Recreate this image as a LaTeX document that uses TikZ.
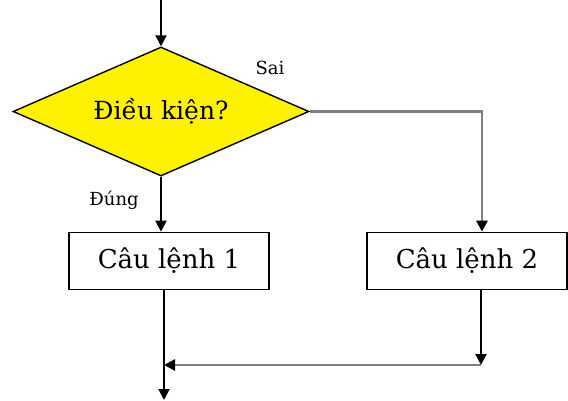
\documentclass[tikz,border=0pt]{standalone}
\usepackage{fontspec}
\setmainfont{DejaVu Serif}
\usetikzlibrary{shapes.geometric,arrows.meta}
\begin{document}
\begin{tikzpicture}[x=1pt,y=-1pt]
  \tikzset{stmt box/.style={draw,line width=1.6pt,minimum width=200pt,minimum height=57pt,inner sep=0pt,font=\fontsize{26}{30}\selectfont},
    flow/.style={line width=2pt,-{Triangle[length=11pt,width=11pt,black]}},
    gray flow/.style={flow,draw=gray,line width=2.6pt},
    tag/.style={font=\fontsize{18}{20}\selectfont}}
  \useasboundingbox (0,0) rectangle (568,401);

  \node[diamond,draw,line width=1.4pt,fill=yellow,aspect=2.3,minimum width=296pt,minimum height=129pt,inner sep=0pt,font=\fontsize{25}{30}\selectfont] (cond) at (161,111.5) {Điều kiện?};
  \node[stmt box] (s1) at (169,261) {Câu lệnh 1};
  \node[stmt box] (s2) at (467,261) {Câu lệnh 2};
  \coordinate (start) at (161,0);
  \coordinate (turn) at (482,111.5);
  \coordinate (join) at (164,365);
  \coordinate (back) at (481,365);
  \coordinate (exit) at (164,400);

  \draw[flow] (start) -- (cond.north);
  \draw[flow] (cond.south) -- (cond.south |- s1.north);
  \draw[gray flow] (cond.east) -- (turn) -- (turn |- s2.north);
  \draw[flow] (back |- s2.south) -- (back);
  \draw[gray flow] (back) -- (join);
  \draw[flow] (join |- s1.south) -- (exit);

  \node[tag] at (270,68) {Sai};
  \node[tag] at (114,200) {Đúng};
\end{tikzpicture}
\end{document}
